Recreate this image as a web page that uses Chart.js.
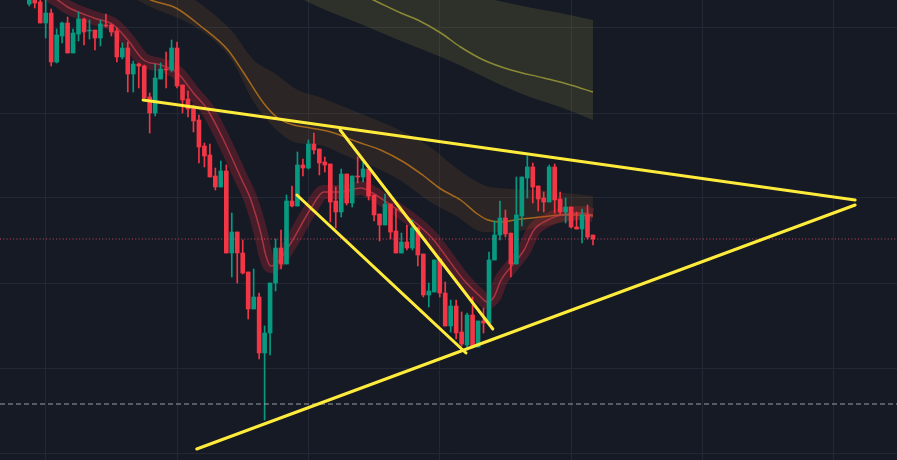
<!DOCTYPE html>
<html>
<head>
<meta charset="utf-8">
<script src="https://cdn.jsdelivr.net/npm/chart.js@4.4.1/dist/chart.umd.min.js"></script>
<style>
body { margin: 0; background: #161a25; overflow: hidden; }
#wrap { width: 897px; height: 460px; }
</style>
</head>
<body>
<div id="wrap"><canvas id="myChart"></canvas></div>
<script>
// candles, one per bar index, first candle sits at index -3
var firstIdx = -3;
var opens = [1996,2002,1998,1977,1987,1938,1964,1977,1947,1966,
  1981,1969,1970,1962,1975,1975,1969,1943,1952,1926,
  1936,1934,1903,1887,1921,1931,1930,1952,1915,1901,
  1893,1880,1854,1845,1824,1813,1829,1747,1768,1747,
  1728,1691,1703,1647,1667,1717,1752,1736,1799,1794,
  1835,1832,1856,1851,1838,1836,1799,1788,1826,1797,
  1824,1823,1831,1805,1786,1775,1796,1769,1747,1758,
  1752,1772,1746,1705,1708,1741,1707,1674,1694,1668,
  1655,1685,1653,1679,1677,1740,1765,1782,1767,1736,
  1784,1822,1833,1814,1802,1798,1833,1801,1788,1793,
  1773,1771,1785,1765];
var highs = [2012,2010,2003,2002,1991,1971,1978,1983,1971,1988,
  1982,1980,1970,1980,1986,1976,1972,1957,1958,1939,
  1937,1935,1907,1936,1937,1948,1960,1958,1915,1909,
  1895,1885,1857,1856,1832,1839,1835,1787,1768,1760,
  1728,1731,1707,1674,1717,1761,1770,1805,1814,1848,
  1841,1860,1867,1851,1843,1836,1813,1831,1826,1824,
  1843,1838,1831,1805,1786,1806,1796,1791,1767,1775,
  1780,1773,1746,1717,1740,1741,1718,1700,1700,1688,
  1687,1703,1679,1692,1748,1779,1799,1790,1767,1823,
  1823,1844,1837,1814,1808,1835,1836,1808,1802,1793,
  1788,1791,1795,1765];
var lows = [1994,1992,1977,1962,1934,1937,1957,1947,1947,1959,
  1955,1961,1950,1954,1973,1964,1938,1941,1908,1908,
  1912,1902,1867,1884,1921,1912,1928,1912,1887,1883,
  1868,1837,1833,1823,1810,1813,1747,1723,1717,1726,
  1681,1691,1641,1580,1645,1709,1731,1736,1793,1794,
  1824,1831,1846,1825,1828,1778,1772,1783,1795,1793,
  1817,1818,1800,1779,1759,1775,1761,1747,1747,1750,
  1750,1734,1703,1693,1708,1703,1674,1668,1661,1654,
  1653,1652,1653,1667,1677,1740,1760,1763,1723,1736,
  1774,1802,1797,1789,1788,1798,1787,1786,1777,1772,
  1771,1757,1761,1755];
var closes = [2008,1997,1977,1987,1938,1965,1977,1947,1967,1981,
  1968,1970,1962,1976,1974,1968,1943,1952,1926,1936,
  1934,1902,1887,1922,1931,1930,1952,1914,1900,1891,
  1879,1853,1844,1823,1813,1829,1747,1768,1747,1727,
  1691,1703,1647,1667,1717,1752,1736,1799,1794,1835,
  1832,1856,1850,1837,1835,1798,1788,1826,1797,1824,
  1823,1831,1804,1785,1775,1796,1768,1747,1758,1752,
  1772,1745,1705,1709,1740,1707,1674,1694,1667,1656,
  1685,1653,1679,1677,1740,1765,1782,1766,1736,1785,
  1823,1833,1813,1801,1798,1833,1800,1788,1793,1773,
  1771,1785,1763,1761];

// fast average (red)
var fastX = [-3,2.2,4,8.8,12.4,15,17.9,21,24.1,27,29.6,32.5,35.6,37.5,39.3,40.2,41.1,42.4,44.8,48.4,
  50.8,53.9,57.6,59.4,62.5,66.2,68.5,70.9,72.7,76.4,79.5,80.6,81.9,83.2,85,87.4,89.2,91.7,94.1,97.8,100];
var fastY = [2015,2000,1993,1982,1975,1960,1940,1935,1927,1907,1890,1860,1823,1800,1767,1745,1734,1738,1757,1791,
  1808,1808,1812,1808,1797,1783,1773,1760,1747,1720,1703,1698,1703,1720,1733,1750,1770,1780,1785,1787,1785];

// medium average (orange) and its band
var midX = [13.7,19.2,23.8,28.3,33.3,36.2,39.8,42.4,45.3,48.4,52.1,57,61.2,65.4,69.1,72.2,75.8,78.9,80.8,83.2,86.8,90.5,94.1,97.8,100];
var midY = [2015,2000,1992,1974,1950,1927,1897,1882,1875,1872,1868,1858,1850,1838,1824,1811,1800,1786,1780,1778,1781,1783,1785,1785,1784];
var midBandX = [15,20,25,30,34,38,42,46,50,55,60,65,70,75,80,85,90,95,100];
var midUpper = [2035,2022,2008,1989,1969,1940,1926,1910,1903,1892,1881,1869,1854,1832,1815,1811,1810,1807,1804];
var midLower = [2005,1991,1980,1963,1940,1898,1871,1857,1855,1844,1833,1819,1799,1784,1768,1768,1773,1778,1782];

// slow average (olive) and its band
var slowX = [53.9,59.9,64.9,68,72.2,75.8,80,85,91,95.9,100];
var slowY = [2015,2000,1987,1980,1967,1953,1940,1930,1922,1915,1908];
var slowBandX = [46,52,58,64,70,76,82,88,94,100];
var slowUpper = [2040,2035,2030,2025,2015,2005,2000,1993,1987,1980];
var slowLower = [2003,1988,1975,1961,1948,1934,1918,1904,1893,1880];

// drawn trend lines: [x1, y1, x2, y2]
var trendLines = [[17.8,1900,147.9,1800],[27.6,1551,147.9,1795],[53.8,1870,81.7,1671],[45.9,1805,76.8,1647]];
var dottedLevel = 1761;
var dashedLevel = 1596;

var gridX = [0,24,48,72,96,120,144];
var gridY = [1547,1632,1717,1802,1887,1972];
var xMin = -8.35, xMax = 155.55, yMin = 1540, yMax = 2000;

var upColor = '#089981', downColor = '#f23645';

function pts(xs, ys) {
  return xs.map(function(x, i) { return {x: x, y: ys[i]}; });
}

var wickData = [], bodyData = [], candleColors = [];
for (var i = 0; i < opens.length; i++) {
  var up = closes[i] >= opens[i];
  candleColors.push(up ? upColor : downColor);
  wickData.push({x: firstIdx + i, y: [lows[i], highs[i]]});
  var b0 = Math.min(opens[i], closes[i]), b1 = Math.max(opens[i], closes[i]);
  if (b1 - b0 < 1) b1 = b0 + 1;
  bodyData.push({x: firstIdx + i, y: [b0, b1]});
}

function lineSet(data, color, width, order, extra) {
  var d = {type: 'line', data: data, borderColor: color, borderWidth: width, pointRadius: 0,
    fill: false, order: order, cubicInterpolationMode: 'monotone'};
  for (var k in extra) d[k] = extra[k];
  return d;
}

var datasets = [];
trendLines.forEach(function(t) {
  datasets.push(lineSet([{x: t[0], y: t[1]}, {x: t[2], y: t[3]}], '#ffeb3b', 3, 0, {borderCapStyle: 'round'}));
});
datasets.push(lineSet([{x: xMin, y: dottedLevel}, {x: xMax, y: dottedLevel}], 'rgba(230,80,110,0.85)', 1, 1, {borderDash: [1, 2.3]}));
datasets.push(lineSet([{x: xMin, y: dashedLevel}, {x: xMax, y: dashedLevel}], 'rgba(170,172,180,0.9)', 1, 1, {borderDash: [5, 3]}));
datasets.push({type: 'bar', data: bodyData, backgroundColor: candleColors, barThickness: 4, grouped: false, order: 2});
datasets.push({type: 'bar', data: wickData, backgroundColor: candleColors, barThickness: 1, grouped: false, order: 3});
datasets.push(lineSet(pts(fastX, fastY), 'rgba(200,60,75,0.75)', 1.5, 4));
datasets.push(lineSet(pts(fastX, fastY), 'rgba(200,40,55,0.28)', 14, 5));
datasets.push(lineSet(pts(midX, midY), 'rgba(205,125,25,0.75)', 1.5, 6));
datasets.push(lineSet(pts(slowX, slowY), 'rgba(150,148,55,0.9)', 1.5, 7));
datasets.push(lineSet(pts(midBandX, midUpper), 'rgba(0,0,0,0)', 0, 8, {fill: '+1', backgroundColor: 'rgba(120,80,40,0.22)'}));
datasets.push(lineSet(pts(midBandX, midLower), 'rgba(0,0,0,0)', 0, 8));
datasets.push(lineSet(pts(slowBandX, slowUpper), 'rgba(0,0,0,0)', 0, 9, {fill: '+1', backgroundColor: 'rgba(130,130,60,0.22)'}));
datasets.push(lineSet(pts(slowBandX, slowLower), 'rgba(0,0,0,0)', 0, 9));

var ctx = document.getElementById('myChart').getContext('2d');
var myChart = new Chart(ctx, {
  type: 'bar',
  data: {datasets: datasets},
  options: {
    responsive: true,
    maintainAspectRatio: false,
    animation: false,
    layout: {padding: 0},
    plugins: {legend: {display: false}, tooltip: {enabled: false}},
    scales: {
      x: {
        type: 'linear', min: xMin, max: xMax, offset: false,
        grid: {color: '#242836', drawTicks: false, offset: false},
        border: {display: false},
        ticks: {display: false},
        afterBuildTicks: function(s) { s.ticks = gridX.map(function(v) { return {value: v}; }); }
      },
      y: {
        type: 'linear', min: yMin, max: yMax,
        grid: {color: '#242836', drawTicks: false},
        border: {display: false},
        ticks: {display: false},
        afterBuildTicks: function(s) { s.ticks = gridY.map(function(v) { return {value: v}; }); }
      }
    }
  }
});
</script>
</body>
</html>
